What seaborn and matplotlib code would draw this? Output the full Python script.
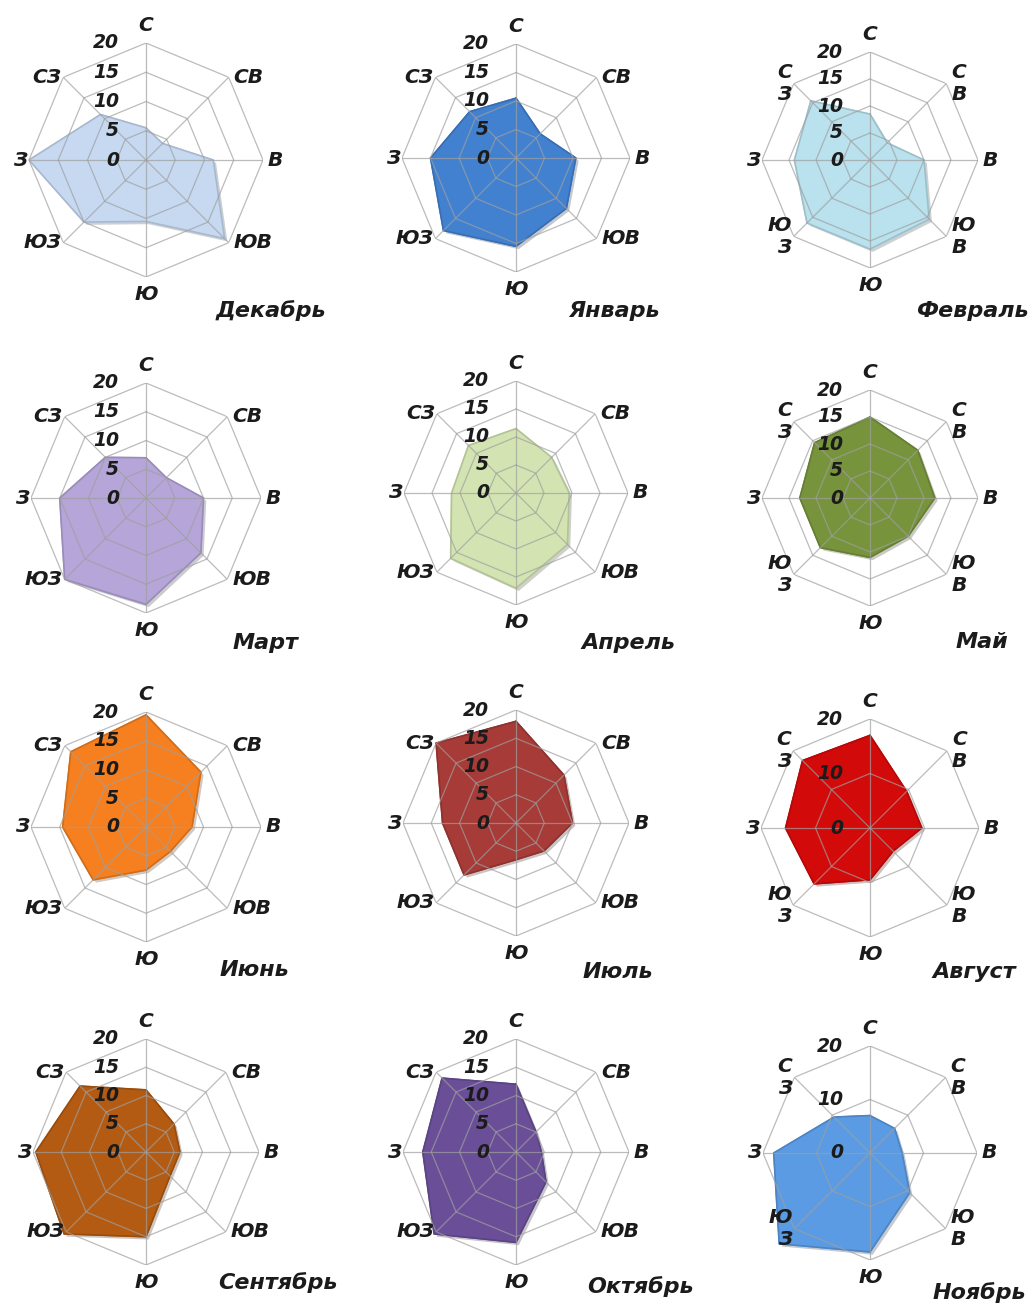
import numpy as np
import matplotlib
matplotlib.use("Agg")
import matplotlib.pyplot as plt
import matplotlib.patheffects as pe
import seaborn as sns

# Румбы (по часовой стрелке от севера)
directions = ["С", "СВ", "В", "ЮВ", "Ю", "ЮЗ", "З", "СЗ"]
directions_split = ["С", "С\nВ", "В", "Ю\nВ", "Ю", "Ю\nЗ", "З", "С\nЗ"]

months = ["Декабрь", "Январь", "Февраль",
          "Март", "Апрель", "Май",
          "Июнь", "Июль", "Август",
          "Сентябрь", "Октябрь", "Ноябрь"]

# Повторяемость ветра по румбам, %
dec = [5.5, 4, 11.5, 19, 10.5, 15, 20, 11]
jan = [10.5, 6, 10.5, 12.5, 15.5, 18, 15, 11.5]
feb = [8.5, 4.5, 10, 15.5, 16.5, 16.5, 14, 15.5]
mar = [7, 5, 10, 13.5, 18.5, 20, 15, 10]
apr = [11.5, 9, 9.5, 13, 17, 16.5, 11.5, 12]
may = [15, 12.5, 12, 10, 11, 13, 13, 14.5]
jun = [19.5, 13.5, 8, 6, 7.5, 13, 14.5, 18.5]
jul = [18, 12, 10, 7, 6.5, 13, 13, 20]
aug = [17, 9.5, 9.5, 6, 9.5, 14.5, 15.5, 17.5]
sep = [11, 7, 6, 6, 15, 20.5, 19.5, 16.5]
octo = [12, 5, 4.5, 7.5, 16, 20.5, 16.5, 18.5]
nov = [7, 6.5, 6, 10.5, 18.5, 24, 18, 9.5]

series = [dec, jan, feb, mar, apr, may, jun, jul, aug, sep, octo, nov]

ticks_fine = [0, 5, 10, 15, 20]
ticks_coarse = [0, 10, 20]
tick_sets = [ticks_fine] * 8 + [ticks_coarse] + [ticks_fine] * 2 + [ticks_coarse]

fill_colors = ["#c6d9f1", "#4281d0", "#b9e1ee",
               "#b5a5d8", "#d3e4b2", "#77943d",
               "#f6801f", "#a63b37", "#d20a0a",
               "#b35b12", "#6a4f98", "#5a9be3"]

# Раскладка панелей (пиксели фигуры)
W, H = 1035, 1308
centers = [(146, 160), (516, 158), (870, 160),
           (146, 498), (516, 493), (870, 498),
           (146, 827), (516, 823), (870, 828),
           (146, 1152), (516, 1152), (870, 1153)]
radii = [117, 114, 108, 115, 112, 108, 115, 113, 109, 113, 113, 107]
title_pos = [(271, 311), (614, 311), (972, 311),
             (265, 643), (628, 643), (982, 642),
             (254, 970), (618, 972), (974, 972),
             (278, 1283), (641, 1287), (979, 1293)]

sns.set_theme(style="white")
plt.rcParams["font.family"] = ["DejaVu Sans"]

text_color = "#1b1b1b"
grid_color = "#9f9f9f"

fig = plt.figure(figsize=(W / 100, H / 100), dpi=100)
fig.patch.set_facecolor("white")

theta = np.linspace(0, 2 * np.pi, len(directions), endpoint=False)
theta_closed = np.append(theta, theta[0])


def darker(color, k=0.8):
    r, g, b = matplotlib.colors.to_rgb(color)
    return (r * k, g * k, b * k)


for i, (vals, month) in enumerate(zip(series, months)):
    cx, cy = centers[i]
    r = radii[i]
    ax = fig.add_axes([(cx - r) / W, 1 - (cy + r) / H, 2 * r / W, 2 * r / H],
                      projection="polar")
    ax.set_theta_zero_location("N")
    ax.set_theta_direction(-1)
    ax.set_ylim(0, 20)
    ax.axis("off")

    ticks = tick_sets[i]
    v_closed = np.append(vals, vals[0])

    # Заливка многоугольника
    poly = ax.fill(theta_closed, v_closed, color=fill_colors[i], zorder=2,
                   clip_on=False)[0]
    poly.set_path_effects([pe.SimplePatchShadow(offset=(2, -2), alpha=0.25),
                           pe.Normal()])
    sns.lineplot(x=theta_closed, y=v_closed, sort=False, estimator=None,
                 color=darker(fill_colors[i], 0.85), linewidth=1.2, ax=ax,
                 zorder=3)
    for ln in ax.lines:
        ln.set_clip_on(False)
    ax.set_xlabel("")
    ax.set_ylabel("")

    # Сетка: восьмиугольники и лучи
    for t in ticks[1:]:
        ax.plot(theta_closed, [t] * len(theta_closed), color=grid_color,
                lw=0.9, alpha=0.7, zorder=4)
    for th in theta:
        ax.plot([th, th], [0, 20], color=grid_color, lw=0.9, alpha=0.7,
                zorder=4)

    # Подписи шкалы
    for t in ticks:
        ax.annotate(str(t), xy=(0, t), xycoords="data", xytext=(-27, 0),
                    textcoords="offset pixels", ha="right", va="center",
                    fontsize=13.5, fontweight="bold", fontstyle="italic",
                    color=text_color, zorder=6, annotation_clip=False)

    # Подписи румбов
    labels = directions_split if i % 3 == 2 else directions
    for th, lab, name in zip(theta, labels, directions):
        if name == "С":
            off, ha, va = (0, 8), "center", "bottom"
        elif name == "Ю":
            off, ha, va = (0, -8), "center", "top"
        elif name in ("СВ", "В", "ЮВ"):
            off, ha, va = (5, 0), "left", "center"
        else:
            off, ha, va = (-2, 0), "right", "center"
        ax.annotate(lab, xy=(th, 20), xycoords="data", xytext=off,
                    textcoords="offset pixels", ha=ha, va=va,
                    fontsize=14.5, fontweight="bold", fontstyle="italic",
                    color=text_color, linespacing=1.2, zorder=6,
                    annotation_clip=False)

    tx, ty = title_pos[i]
    fig.text(tx / W, 1 - ty / H, month, ha="center", va="center",
             fontsize=16, fontweight="bold", fontstyle="italic",
             color=text_color)

fig.savefig("out.png", dpi=100, facecolor="white")
